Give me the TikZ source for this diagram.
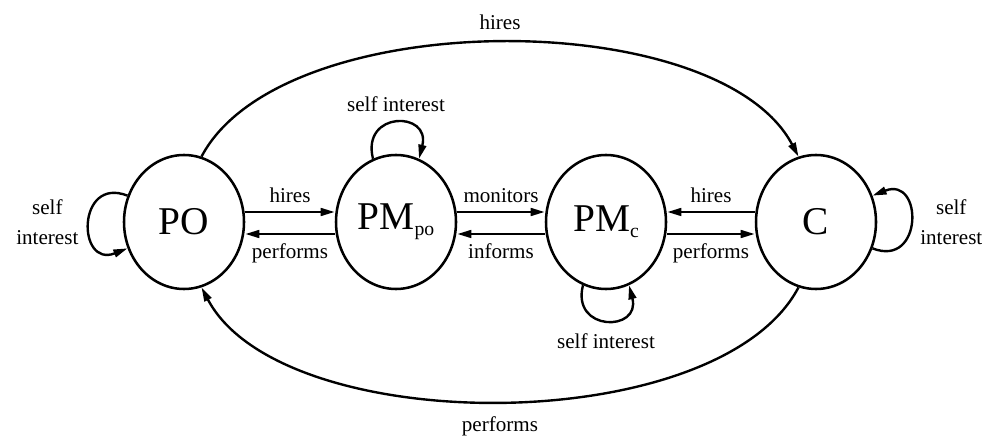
\documentclass[tikz,border=0pt]{standalone}
\usepackage{fontspec}
\setmainfont{Liberation Serif}
\usetikzlibrary{arrows.meta,shapes.geometric}
\newcommand{\lowidx}[1]{\raisebox{-4.5pt}{\fontsize{14}{14}\selectfont #1}}

\begin{document}
\begin{tikzpicture}[
	party/.style={ellipse, draw, line width=1.8pt, minimum width=3cm, minimum height=3.35cm, inner sep=0pt, font=\fontsize{28}{30}\selectfont},
	rel/.style={line width=1.7pt, -{Triangle[length=10pt,width=5.5pt]}},
	lbl/.style={font=\fontsize{15}{21}\selectfont, inner sep=3pt, align=center}
	]
	\useasboundingbox (0,0) rectangle (24.775,11.025);
	% the four parties
	\node[party] (po) at (4.6,5.475) {PO};
	\node[party] (pmpo) at (9.9,5.475) {PM\lowidx{po}};
	\node[party] (pmc) at (15.15,5.475) {PM\lowidx{c}};
	\node[party] (c) at (20.4,5.475) {C};
	
	% neighbours
	\draw[rel] ([yshift=.25cm]po.east) -- ([yshift=.25cm]pmpo.west) node[lbl,midway,above=3pt] (hires1) {hires};
	\draw[rel] ([yshift=-.3cm]pmpo.west) -- ([yshift=-.3cm]po.east) node[lbl,midway,below=3pt] (perf1) {performs};
	\draw[rel] ([yshift=.25cm]pmpo.east) -- ([yshift=.25cm]pmc.west) node[lbl,midway,above=3pt] (monit) {monitors};
	\draw[rel] ([yshift=-.3cm]pmc.west) -- ([yshift=-.3cm]pmpo.east) node[lbl,midway,below=3pt] (inform) {informs};
	\draw[rel] ([yshift=.25cm]c.west) -- ([yshift=.25cm]pmc.east) node[lbl,midway,above=3pt] (hires2) {hires};
	\draw[rel] ([yshift=-.3cm]pmc.east) -- ([yshift=-.3cm]c.west) node[lbl,midway,below=3pt] (perf2) {performs};
	
	% the long way round
	\draw[rel] (po.75) .. controls +(2,3.8) and +(-2,3.8) .. (c.105) node[lbl,midway,above=5pt] (hires3) {hires};
	\draw[rel] (c.255) .. controls +(-2,-3.8) and +(2,-3.8) .. (po.285) node[lbl,midway,below=7pt] (perf3) {performs};
	
	% self interest loops
	\draw[rel] (po.155) .. controls +(-1.27,.5) and +(-1.27,-.5) .. (po.205) node[lbl,midway,left=4pt] (self1) {self\\interest};
	\draw[rel] (pmpo.110) .. controls +(-.3,1.2) and +(.3,1.2) .. (pmpo.70) node[lbl,midway,above=4pt] (self2) {self interest};
	\draw[rel] (pmc.250) .. controls +(-.3,-1.17) and +(.3,-1.17) .. (pmc.290) node[lbl,midway,below=5.5pt] (self3) {self interest};
	\draw[rel] (c.335) .. controls +(1.27,-.5) and +(1.27,.5) .. (c.25) node[lbl,midway,right=3pt] (self4) {self\\interest};
\end{tikzpicture}
\end{document}
